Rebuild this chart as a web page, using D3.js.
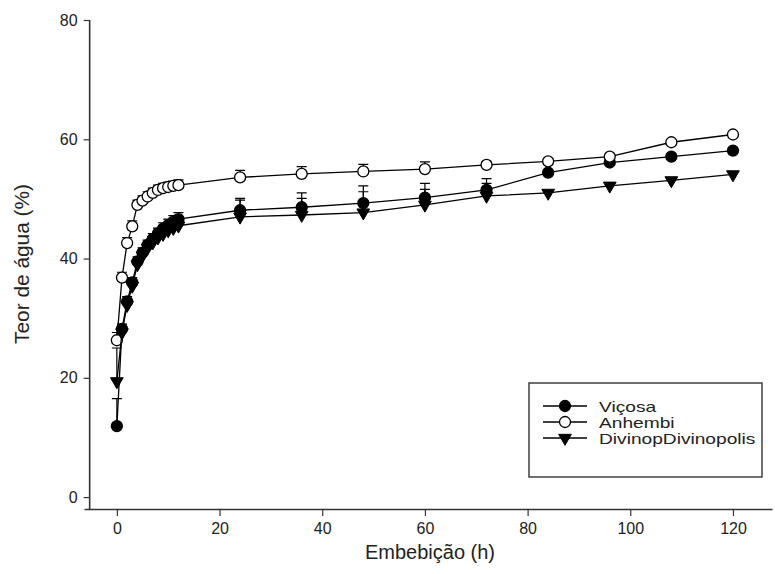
<!DOCTYPE html>
<html>
<head>
<meta charset="utf-8">
<script src="https://cdn.jsdelivr.net/npm/d3@7"></script>
<style>
  body { margin: 0; background: #fff; }
  text { font-family: "Liberation Sans", Arial, sans-serif; fill: #222; }
</style>
</head>
<body>
<div id="wrapper"></div>
<script>
// tempo de embebição (h)
const hours = [0, 1, 2, 3, 4, 5, 6, 7, 8, 9, 10, 11, 12, 24, 36, 48, 60, 72, 84, 96, 108, 120];

const vicosa = [11.9, 28.2, 32.8, 36.0, 39.5, 41.0, 42.3, 43.3, 44.2, 45.0, 45.6, 46.2, 46.6,
                48.1, 48.6, 49.3, 50.2, 51.5, 54.4, 56.1, 57.1, 58.1];
const vicosaErr = [4.6, 0.8, 0.8, 0.8, 0.8, 0.8, 0.8, 0.9, 0.9, 1.0, 1.0, 1.0, 1.1,
                   2.0, 2.4, 2.9, 2.4, 1.9, 0.4, 0.4, 0.4, 0.4];

const anhembi = [26.3, 36.8, 42.6, 45.4, 49.0, 49.7, 50.4, 51.0, 51.5, 51.8, 52.0, 52.2, 52.3,
                 53.6, 54.2, 54.6, 55.0, 55.7, 56.3, 57.1, 59.5, 60.8];
const anhembiErr = [1.3, 0.9, 0.9, 0.9, 0.8, 0.8, 0.8, 0.8, 0.8, 0.8, 0.8, 0.8, 0.9,
                    1.2, 1.2, 1.2, 1.2, 0.6, 0.4, 0.4, 0.4, 0.4];

const divinopolis = [19.4, 27.6, 32.2, 35.4, 39.0, 40.5, 41.8, 42.7, 43.5, 44.1, 44.7, 45.1, 45.5,
                     47.0, 47.3, 47.7, 49.0, 50.5, 51.0, 52.2, 53.1, 54.1];
const divinopolisErr = [5.6, 0.8, 0.8, 0.8, 0.8, 0.8, 0.8, 0.8, 0.9, 0.9, 1.0, 1.0, 1.0,
                        2.8, 2.8, 3.5, 2.6, 2.1, 0.4, 0.4, 0.4, 0.4];

const xTicks = [0, 20, 40, 60, 80, 100, 120];
const yTicks = [0, 20, 40, 60, 80];

const series = [
  {name: "Viçosa", values: vicosa, err: vicosaErr, symbol: "circle", fill: "#000"},
  {name: "Anhembi", values: anhembi, err: anhembiErr, symbol: "circle", fill: "#fff"},
  {name: "DivinopDivinopolis", values: divinopolis, err: divinopolisErr, symbol: "triangle", fill: "#000"}
];

const width = 775, height = 574;

const svg = d3.select("#wrapper")
  .append("svg")
  .attr("width", width)
  .attr("height", height);

const x = d3.scaleLinear().domain([-6.4, 127.6]).range([84, 772]);
const y = d3.scaleLinear().domain([-2, 80]).range([509, 20]);

// eixos deslocados (estilo SigmaPlot)
const xAxis = svg.append("g")
  .attr("transform", `translate(0,${y(-2)})`)
  .call(d3.axisBottom(x).tickValues(xTicks).tickSize(7).tickPadding(7).tickSizeOuter(0));
const yAxis = svg.append("g")
  .attr("transform", `translate(${x(-5.3)},0)`)
  .call(d3.axisLeft(y).tickValues(yTicks).tickSize(6).tickPadding(6).tickSizeOuter(0));

[xAxis, yAxis].forEach(a => {
  a.select(".domain").attr("stroke", "#333").attr("stroke-width", 1.6);
  a.selectAll(".tick line").attr("stroke", "#333").attr("stroke-width", 1.2);
  a.selectAll(".tick text").style("font-size", "16px").attr("fill", "#222");
});
yAxis.select(".domain").attr("d", `M0,${y(80)}V${y(-2)}`);

svg.append("text")
  .attr("x", 430).attr("y", 559)
  .attr("text-anchor", "middle")
  .style("font-size", "20px")
  .text("Embebição (h)");

svg.append("text")
  .attr("transform", `translate(29,264) rotate(-90)`)
  .attr("text-anchor", "middle")
  .attr("textLength", 160)
  .attr("lengthAdjust", "spacingAndGlyphs")
  .style("font-size", "20px")
  .text("Teor de água (%)");

const line = d3.line().x(d => x(d.h)).y(d => y(d.v));
const tri = d3.symbol().type(d3.symbolTriangle).size(70);

function drawMarker(g, s, cx, cy) {
  if (s.symbol === "circle") {
    g.append("circle")
      .attr("cx", cx).attr("cy", cy).attr("r", 5.5)
      .attr("fill", s.fill).attr("stroke", "#000").attr("stroke-width", 1.3);
  } else {
    g.append("path")
      .attr("d", tri())
      .attr("transform", `translate(${cx},${cy}) rotate(180)`)
      .attr("fill", s.fill).attr("stroke", "#000").attr("stroke-width", 1);
  }
}

series.forEach(s => {
  const pts = hours.map((h, i) => ({h: h, v: s.values[i], e: s.err[i]}));
  const g = svg.append("g");

  // barras de erro (superior)
  g.selectAll("path.err")
    .data(pts)
    .enter()
    .append("path")
    .attr("class", "err")
    .attr("fill", "none")
    .attr("stroke", "#000")
    .attr("stroke-width", 1.2)
    .attr("d", d => {
      const cx = x(d.h), top = y(d.v + d.e);
      return `M${cx},${y(d.v)}V${top}M${cx - 5},${top}H${cx + 5}`;
    });

  g.append("path")
    .datum(pts)
    .attr("fill", "none")
    .attr("stroke", "#000")
    .attr("stroke-width", 1.3)
    .attr("d", line);

  pts.forEach(d => drawMarker(g, s, x(d.h), y(d.v)));
});

// legenda
const legend = svg.append("g").attr("transform", "translate(529,383)");
legend.append("rect")
  .attr("width", 233).attr("height", 94)
  .attr("fill", "#fff").attr("stroke", "#333").attr("stroke-width", 1.4);

series.forEach((s, i) => {
  const ly = 23 + i * 16;
  const row = legend.append("g");
  row.append("line")
    .attr("x1", 14).attr("x2", 58).attr("y1", ly).attr("y2", ly)
    .attr("stroke", "#000").attr("stroke-width", 1.3);
  drawMarker(row, s, 36, ly);
  const t = row.append("text")
    .attr("x", 70).attr("y", ly + 5.5)
    .style("font-size", "14.5px")
    .text(s.name);
  // texto da legenda mais largo no original
  t.attr("textLength", t.node().getComputedTextLength() * 1.32)
    .attr("lengthAdjust", "spacingAndGlyphs");
});
</script>
</body>
</html>
